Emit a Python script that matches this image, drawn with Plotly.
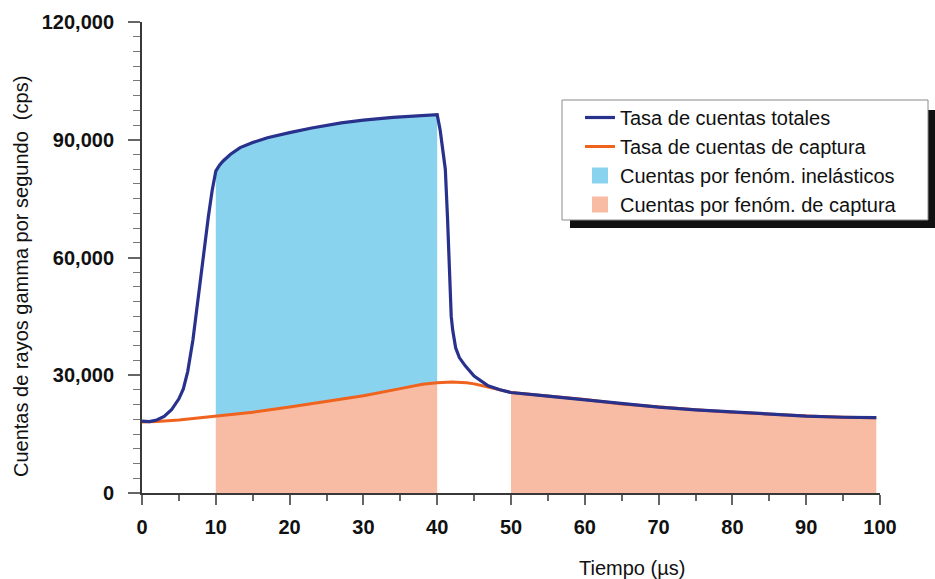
import numpy as np
import plotly.graph_objects as go

# ---- data ----
t_total = [0, 1, 2, 3, 4, 5, 5.6, 6.2, 6.9, 7.5, 8.1, 8.6, 9.0, 9.5, 10,
           10.5, 11, 12, 13.3, 15, 17, 20, 23, 27, 30, 34, 37, 40,
           40.4, 40.8, 41.1, 41.4, 41.7, 41.9, 42.1, 42.5, 43, 43.8, 45,
           46.9, 48.5, 50, 55, 60, 65, 70, 75, 80, 85, 90, 95, 99.5]
total = [18300, 18200, 18600, 19500, 21200, 24000, 26500, 31000, 39000, 48000,
         57800, 65000, 70500, 77000, 82000,
         83500, 84600, 86300, 88000, 89300, 90500, 91800, 93000, 94300, 95000,
         95700, 96100, 96400,
         92500, 87000, 82500, 70000, 55000, 45000, 41500, 37000, 34500, 32400,
         29800, 27300, 26300, 25600, 24700, 23800, 22700, 21900, 21200, 20600,
         20100, 19600, 19300, 19200]

t_capture = [0, 2, 5, 10, 15, 20, 25, 30, 35, 38, 40, 42, 44, 45, 46.9, 48.5,
             50, 55, 60, 65, 70, 75, 80, 85, 90, 95, 99.5]
capture = [18100, 18200, 18600, 19600, 20600, 21900, 23300, 24800, 26600,
           27700, 28100, 28300, 28100, 27800, 27000, 26200,
           25600, 24700, 23800, 22700, 21900, 21200, 20600, 20100, 19600,
           19300, 19200]

inelastic_window = (10, 40)
capture_windows = [(10, 40), (50, 99.5)]

x_ticks = [0, 10, 20, 30, 40, 50, 60, 70, 80, 90, 100]
y_ticks = [0, 30000, 60000, 90000, 120000]

names = ["Tasa de cuentas totales", "Tasa de cuentas de captura",
         "Cuentas por fenóm. inelásticos", "Cuentas por fenóm. de captura"]
x_title = "Tiempo (µs)"
y_title = "Cuentas de rayos gamma por segundo  (cps)"

# ---- styles ----
C_TOTAL = "#28318C"
C_CAPT = "#F0631F"
C_BLUE_FILL = "#8AD3EE"
C_PEACH_FILL = "#F7BCA3"
FONT = "Liberation Sans, Arial, sans-serif"

W, H = 935, 579
ML, MR, MT, MB = 142, 55, 22, 86
PW, PH = W - ML - MR, H - MT - MB


def px_x(px):
    return (px - ML) / PW


def px_y(py):
    return (H - MB - py) / PH


def window_pts(ts, vs, a, b):
    ts = np.asarray(ts, float)
    xs = [a] + [x for x in ts if a < x < b] + [b]
    return xs, list(np.interp(xs, ts, vs))


fig = go.Figure()

# capture-event fills (under capture curve)
for a, b in capture_windows:
    xs, ys = window_pts(t_capture, capture, a, b)
    fig.add_trace(go.Scatter(x=xs, y=ys, mode="lines", line=dict(width=0),
                             fill="tozeroy", fillcolor=C_PEACH_FILL,
                             showlegend=False, hoverinfo="skip"))

# inelastic fill (between capture and total)
a, b = inelastic_window
xs_lo, ys_lo = window_pts(t_capture, capture, a, b)
xs_hi, ys_hi = window_pts(t_total, total, a, b)
fig.add_trace(go.Scatter(x=xs_lo, y=ys_lo, mode="lines", line=dict(width=0),
                         showlegend=False, hoverinfo="skip"))
fig.add_trace(go.Scatter(x=xs_hi, y=ys_hi, mode="lines", line=dict(width=0),
                         fill="tonexty", fillcolor=C_BLUE_FILL,
                         showlegend=False, hoverinfo="skip"))

# lines
fig.add_trace(go.Scatter(x=t_capture, y=capture, mode="lines",
                         line=dict(color=C_CAPT, width=3),
                         name=names[1], legendrank=2))
fig.add_trace(go.Scatter(x=t_total, y=total, mode="lines",
                         line=dict(color=C_TOTAL, width=3.2),
                         name=names[0], legendrank=1))

# legend swatches
fig.add_trace(go.Scatter(x=[None], y=[None], mode="markers",
                         marker=dict(symbol="square", size=18, color=C_BLUE_FILL),
                         name=names[2], legendrank=3))
fig.add_trace(go.Scatter(x=[None], y=[None], mode="markers",
                         marker=dict(symbol="square", size=18, color=C_PEACH_FILL),
                         name=names[3], legendrank=4))

# legend frame with drop shadow
fig.add_shape(type="rect", xref="paper", yref="paper",
              x0=px_x(570), x1=px_x(936), y0=px_y(228), y1=px_y(110),
              fillcolor="#111111", line=dict(width=0), layer="above")
fig.add_shape(type="rect", xref="paper", yref="paper",
              x0=px_x(562), x1=px_x(928), y0=px_y(220), y1=px_y(100),
              fillcolor="white", line=dict(width=1, color="#8a8a8a"), layer="above")

# axis titles
fig.add_annotation(text=x_title, xref="paper", yref="paper",
                   x=px_x(632), y=px_y(568), showarrow=False,
                   xanchor="center", yanchor="middle",
                   font=dict(family=FONT, size=20, color="#111111"))
fig.add_annotation(text=y_title, xref="paper", yref="paper",
                   x=px_x(21), y=px_y(277), showarrow=False, textangle=-90,
                   xanchor="center", yanchor="middle",
                   font=dict(family=FONT, size=20, color="#111111"))

fig.update_layout(
    width=W, height=H, autosize=False,
    margin=dict(l=ML, r=MR, t=MT, b=MB),
    plot_bgcolor="white", paper_bgcolor="white",
    font=dict(family=FONT, color="#111111"),
    showlegend=True,
    legend=dict(x=px_x(580), y=px_y(98),
                xanchor="left", yanchor="top",
                bgcolor="rgba(0,0,0,0)", borderwidth=0,
                font=dict(family=FONT, size=20, color="#111111"),
                traceorder="normal", itemwidth=30),
    xaxis=dict(range=[0, 100], tickvals=x_ticks, ticktext=[str(v) for v in x_ticks],
               showgrid=False, zeroline=False,
               showline=True, linecolor="#383838", linewidth=2,
               ticks="outside", ticklen=10, tickwidth=1.5, tickcolor="#666666",
               ticklabelstandoff=5,
               tickfont=dict(family=FONT, size=20, color="#111111", weight="bold"),
               minor=dict(dtick=5, ticks="outside", ticklen=6, tickwidth=1.5,
                          tickcolor="#666666", showgrid=False),
               fixedrange=True),
    yaxis=dict(range=[0, 120000], tickvals=y_ticks,
               tickformat=",d",
               showgrid=False, zeroline=False,
               showline=True, linecolor="#383838", linewidth=2,
               ticks="outside", ticklen=12, tickwidth=1.5, tickcolor="#666666",
               ticklabelstandoff=10,
               tickfont=dict(family=FONT, size=20, color="#111111", weight="bold"),
               minor=dict(dtick=3750, ticks="outside", ticklen=7, tickwidth=1.2,
                          tickcolor="#777777", showgrid=False),
               fixedrange=True),
)

# remove the page's default 8px body margin so the figure fills the window
fig.write_html("out.html",
               config={"displayModeBar": False},
               post_script="document.body.style.margin='0px';"
                           "document.body.style.overflow='hidden';")
